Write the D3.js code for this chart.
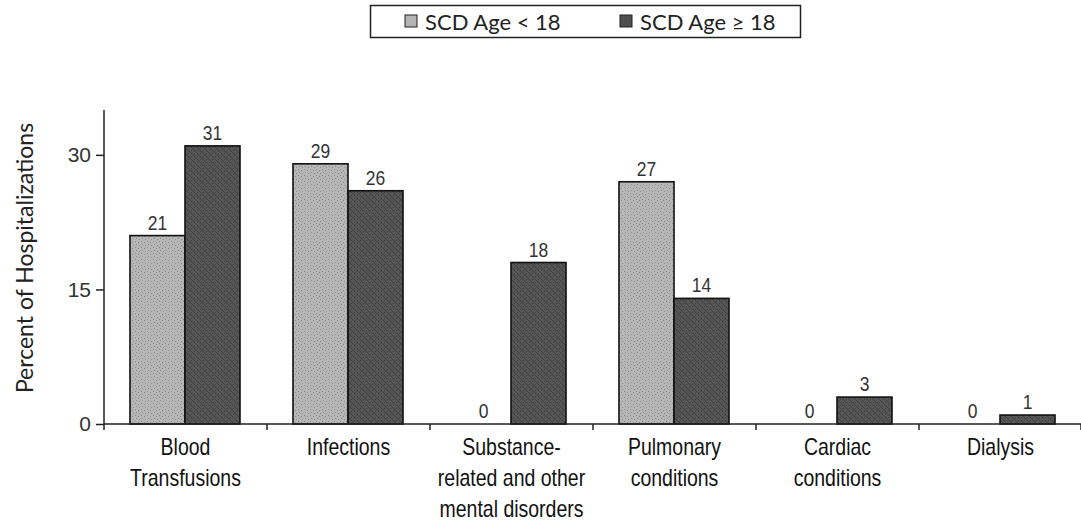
<!DOCTYPE html>
<html>
<head>
<meta charset="utf-8">
<script src="https://cdn.jsdelivr.net/npm/d3@7"></script>
<style>
  html, body { margin: 0; padding: 0; background: #fff; }
  svg { display: block; }
</style>
</head>
<body>
<svg id="chart" width="1081" height="522"></svg>
<script>
// Hospitalization categories and share of hospitalizations (%) per age group
const categories = [
  ["Blood", "Transfusions"],
  ["Infections"],
  ["Substance-", "related and other", "mental disorders"],
  ["Pulmonary", "conditions"],
  ["Cardiac", "conditions"],
  ["Dialysis"]
];
const seriesNames = ["SCD Age < 18", "SCD Age \u2265 18"];
const under18 = [21, 29, 0, 27, 0, 0];
const adults = [31, 26, 18, 14, 3, 1];
const yTicks = [0, 15, 30];

const svg = d3.select("#chart");

// Textured fills for the two series
const defs = svg.append("defs");
const pLight = defs.append("pattern").attr("id", "fillLight")
  .attr("patternUnits", "userSpaceOnUse").attr("width", 6).attr("height", 6);
pLight.append("rect").attr("width", 6).attr("height", 6).attr("fill", "#b6b6b6");
[[1,1],[4,2],[2,4],[5,5]].forEach(([x,y]) =>
  pLight.append("rect").attr("x", x).attr("y", y).attr("width", 1).attr("height", 1).attr("fill", "#909090"));

const pDark = defs.append("pattern").attr("id", "fillDark")
  .attr("patternUnits", "userSpaceOnUse").attr("width", 6).attr("height", 6);
pDark.append("rect").attr("width", 6).attr("height", 6).attr("fill", "#565656");
[[0,0],[1,1],[2,2],[3,3],[4,4],[5,5],[0,3],[3,0]].forEach(([x,y]) =>
  pDark.append("rect").attr("x", x).attr("y", y).attr("width", 1).attr("height", 1).attr("fill", "#3e3e3e"));

const fills = ["url(#fillLight)", "url(#fillDark)"];
const swatch = ["#b4b4b4", "#4e4e4e"];

const plotLeft = 104, plotRight = 1082, plotTop = 110, plotBottom = 424;

const x0 = d3.scaleBand().domain(d3.range(categories.length))
  .range([plotLeft, plotRight]).paddingInner(0).paddingOuter(0);
const x1 = d3.scaleBand().domain([0, 1]).range([26, 136]);
const y = d3.scaleLinear().domain([0, 35]).range([plotBottom, plotTop]);

// Y axis
const yAxis = svg.append("g").attr("transform", `translate(${plotLeft},0)`)
  .call(d3.axisLeft(y).tickValues(yTicks).tickSize(8).tickPadding(5).tickFormat(d3.format("d")));
yAxis.select(".domain").attr("d", `M0,${plotTop}V${plotBottom}`).attr("stroke", "#222").attr("stroke-width", 1.5);
yAxis.selectAll(".tick line").attr("stroke", "#222").attr("stroke-width", 1.5);
yAxis.selectAll(".tick text")
  .attr("font-family", "Liberation Sans, Arial, sans-serif").attr("font-size", 21).attr("fill", "#333");

// Bars
const groups = svg.append("g").selectAll("g")
  .data(categories.map((c, i) => ({ i, values: [under18[i], adults[i]] })))
  .join("g")
  .attr("transform", d => `translate(${x0(d.i)},0)`);

groups.selectAll("rect")
  .data(d => d.values.map((v, s) => ({ v, s })))
  .join("rect")
  .attr("x", d => x1(d.s))
  .attr("y", d => y(d.v))
  .attr("width", x1.bandwidth())
  .attr("height", d => y(0) - y(d.v))
  .attr("fill", d => fills[d.s])
  .attr("stroke", "#111")
  .attr("stroke-width", d => d.v > 0 ? 1.6 : 0);

// Value labels
groups.selectAll("text.val")
  .data(d => d.values.map((v, s) => ({ v, s })))
  .join("text")
  .attr("class", "val")
  .attr("transform", d => `translate(${x1(d.s) + x1.bandwidth() / 2},${y(d.v) - 6}) scale(1,1.2)`)
  .attr("text-anchor", "middle")
  .attr("font-family", "Liberation Sans, Arial, sans-serif")
  .attr("font-size", 17.5)
  .attr("fill", "#333")
  .text(d => d.v);

// X axis
const xAxis = svg.append("g");
xAxis.append("line").attr("x1", plotLeft).attr("x2", plotRight)
  .attr("y1", y(0)).attr("y2", y(0)).attr("stroke", "#222").attr("stroke-width", 1.5);
xAxis.selectAll("line.tick")
  .data(d3.range(categories.length + 1))
  .join("line").attr("class", "tick")
  .attr("x1", i => i < categories.length ? x0(i) : plotRight - 1)
  .attr("x2", i => i < categories.length ? x0(i) : plotRight - 1)
  .attr("y1", y(0)).attr("y2", y(0) + 6)
  .attr("stroke", "#222").attr("stroke-width", 1.5);

// Category labels
categories.forEach((lines, i) => {
  lines.forEach((ln, k) => {
    svg.append("text")
      .attr("transform", `translate(${x0(i) + x0.bandwidth() / 2},${455 + k * 31}) scale(1,1.2)`)
      .attr("text-anchor", "middle")
      .attr("font-family", "Liberation Sans, Arial, sans-serif")
      .attr("font-size", 19.5)
      .attr("fill", "#111")
      .text(ln);
  });
});

// Y axis title
svg.append("text")
  .attr("transform", `translate(33,258) rotate(-90)`)
  .attr("text-anchor", "middle")
  .attr("font-family", "Lato, sans-serif")
  .attr("font-size", 23)
  .attr("fill", "#222")
  .text("Percent of Hospitalizations");

// Legend
const legend = svg.append("g");
legend.append("rect").attr("x", 370.5).attr("y", 5.5).attr("width", 430).attr("height", 32)
  .attr("fill", "#fff").attr("stroke", "#222").attr("stroke-width", 1.5);
const legendX = [405, 620];
seriesNames.forEach((name, s) => {
  legend.append("rect").attr("x", legendX[s]).attr("y", 15).attr("width", 12).attr("height", 12)
    .attr("fill", swatch[s]).attr("stroke", "#222").attr("stroke-width", 1);
  legend.append("text").attr("x", legendX[s] + 20).attr("y", 30)
    .attr("font-family", "Lato, 'Open Sans', sans-serif")
    .attr("font-size", 22)
    .attr("fill", "#222")
    .text(name);
});
</script>
</body>
</html>
